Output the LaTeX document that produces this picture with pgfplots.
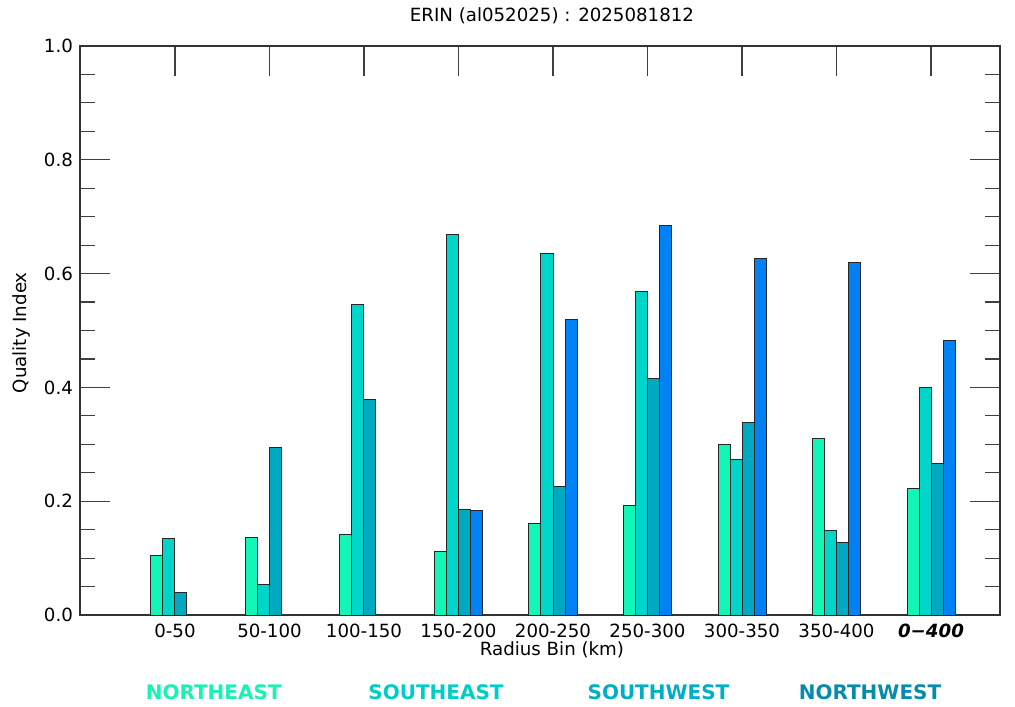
\documentclass[border=0pt]{standalone}
\usepackage{fontspec}
\setmainfont{DejaVu Sans}
\usepackage{pgfplots}
\pgfplotsset{compat=1.18}
\definecolor{cNE}{HTML}{12F7B8}
\definecolor{cSE}{HTML}{00D5CA}
\definecolor{cSW}{HTML}{00A9C2}
\definecolor{cNW}{HTML}{0082F5}
\definecolor{tNE}{HTML}{1AF2B4}
\definecolor{tSE}{HTML}{00CDC8}
\definecolor{tSW}{HTML}{00AFC6}
\definecolor{tNW}{HTML}{078BAC}
\begin{document}
\begin{tikzpicture}[font=\fontsize{9.1pt}{11pt}\selectfont]
\path[use as bounding box] (0,0) rectangle (507.5pt,353pt);
\begin{axis}[
  at={(40pt,45.5pt)}, anchor=south west,
  scale only axis, width=460pt, height=284.5pt,
  xmin=-1.005, xmax=8.73, ymin=0, ymax=1,
  axis line style={black!80, line width=0.6pt},
  xtick={0,1,2,3,4,5,6,7,8},
  xticklabels={0-50,50-100,100-150,150-200,200-250,250-300,300-350,350-400,{\bfseries\itshape 0−400}},
  xtick pos=upper, xticklabel pos=lower,
  ytick={0,0.2,0.4,0.6,0.8,1.0}, minor y tick num=3, minor x tick num=0,
  major tick length=15pt, minor tick length=7.5pt,
  tick style={black!75, line width=0.6pt},
  yticklabel style={/pgf/number format/.cd, fixed, fixed zerofill, precision=1, assume math mode=true},
  xticklabel style={yshift=-1pt},
  xlabel={Radius Bin (km)},
  xlabel style={at={(axis description cs:0.513,-0.0615)}, anchor=center},
  ylabel={Quality Index},
  ylabel style={at={(axis description cs:-0.064,0.496)}, anchor=center},
  clip=false,
]
\addplot[ybar, bar width=0.127, bar shift=-0.1905, fill=cNE, draw=black!85, line width=0.5pt] coordinates {
 (0,0.104) (1,0.137) (2,0.142) (3,0.112) (4,0.160) (5,0.193) (6,0.300) (7,0.311) (8,0.223)};
\addplot[ybar, bar width=0.127, bar shift=-0.0635, fill=cSE, draw=black!85, line width=0.5pt] coordinates {
 (0,0.135) (1,0.053) (2,0.545) (3,0.668) (4,0.636) (5,0.568) (6,0.274) (7,0.149) (8,0.399)};
\addplot[ybar, bar width=0.127, bar shift=0.0635, fill=cSW, draw=black!85, line width=0.5pt] coordinates {
 (0,0.039) (1,0.295) (2,0.378) (3,0.186) (4,0.225) (5,0.415) (6,0.339) (7,0.128) (8,0.267)};
\addplot[ybar, bar width=0.127, bar shift=0.1905, fill=cNW, draw=black!85, line width=0.5pt] coordinates {
 (3,0.183) (4,0.520) (5,0.684) (6,0.626) (7,0.620) (8,0.483)};
\node at (axis description cs:0.513,1.053) {ERIN (al052025) : 2025081812};
\node[font=\bfseries, text=tNE] at (axis description cs:0.1453,-0.1353) {NORTHEAST};
\node[font=\bfseries, text=tSE] at (axis description cs:0.387,-0.1353) {SOUTHEAST};
\node[font=\bfseries, text=tSW] at (axis description cs:0.6288,-0.1353) {SOUTHWEST};
\node[font=\bfseries, text=tNW] at (axis description cs:0.8587,-0.1353) {NORTHWEST};
\end{axis}
\end{tikzpicture}
\end{document}
